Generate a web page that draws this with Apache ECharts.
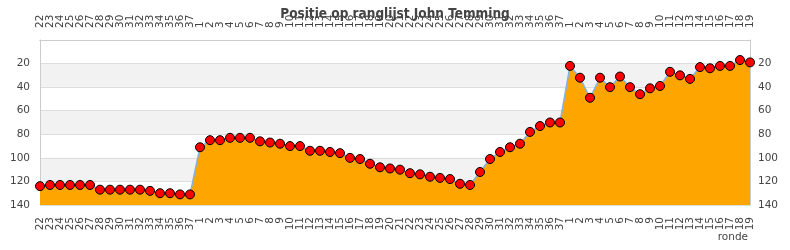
<!DOCTYPE html>
<html><head><meta charset="utf-8">
<script src="https://cdn.jsdelivr.net/npm/echarts@6/dist/echarts.min.js"></script>
<style>html,body{margin:0;padding:0;background:#fff}#c{width:790px;height:250px}</style>
</head><body><div id="c"></div>
<script>
var categories = ['22','23','24','25','26','27','28','29','30','31','32','33','34','35','36','37',
 '1','2','3','4','5','6','7','8','9','10','11','12','13','14','15','16','17','18','19','20','21','22','23','24','25','26','27','28','29','30','31','32','33','34','35','36','37',
 '1','2','3','4','5','6','7','8','9','10','11','12','13','14','15','16','17','18','19'];
var positions = [124,123,123,123,123,123,127,127,127,127,127,128,130,130,131,131,
 91,85,85,83,83,83,86,87,88,90,90,94,94,95,96,100,101,105,108,109,110,113,114,116,117,118,122,123,112,101,95,91,88,78,73,70,70,
 22,32,49,32,40,31,40,46,41,39,27,30,33,23,24,22,22,17,19];
var yTicks = [0,140,20];
var xName = 'ronde';

var chart = echarts.init(document.getElementById('c'), null, {renderer:'canvas'});
var labelColor = '#444';
var xAxisBase = function(pos){
  return {
    type:'category', data:categories, position:pos, boundaryGap:false,
    axisLine:{show:true, lineStyle:{color:'#ccc'}},
    axisTick:{show:false},
    axisLabel:{rotate:90, interval:0, fontSize:10.5, color:labelColor, fontFamily:'DejaVu Sans', margin:12, hideOverlap:false},
    splitLine:{show:false}
  };
};
var yAxisBase = function(pos, m){
  return {
    type:'value', position:pos, inverse:true, min:yTicks[0], max:yTicks[1], interval:yTicks[2],
    axisLine:{show:true, lineStyle:{color:'#ccc'}},
    axisTick:{show:false},
    axisLabel:{fontSize:10.5, color:labelColor, fontFamily:'DejaVu Sans', margin:m,
      formatter:function(v){return v===0?'':String(v);}},
    splitLine:{show:pos==='left', lineStyle:{color:'#ddd'}},
    splitArea:{show:pos==='left', areaStyle:{color:['#ffffff','#f2f2f2']}}
  };
};
chart.setOption({
  animation:false,
  title:{text:'Positie op ranglijst John Temming', left:'center', top:2,
    textStyle:{fontSize:13.5, fontWeight:'bold', color:'#444', fontFamily:'DejaVu Sans Condensed'}},
  grid:{left:40, right:40, top:40, bottom:45},
  xAxis:[xAxisBase('bottom'), xAxisBase('top')],
  yAxis:[yAxisBase('left',10), yAxisBase('right',8)],
  graphic:[{type:'text', right:42, top:232,
    style:{text:xName, fontSize:10.5, fill:labelColor, fontFamily:'DejaVu Sans'}}],
  series:[{
    type:'line', data:positions, xAxisIndex:0, yAxisIndex:0,
    symbol:'circle', symbolSize:9,
    itemStyle:{color:'#ff0000', borderColor:'#000', borderWidth:1},
    lineStyle:{color:'#7fb2e5', width:1.5},
    areaStyle:{color:'#ffa500', opacity:1, origin:'end'}
  }]
});
</script></body></html>
